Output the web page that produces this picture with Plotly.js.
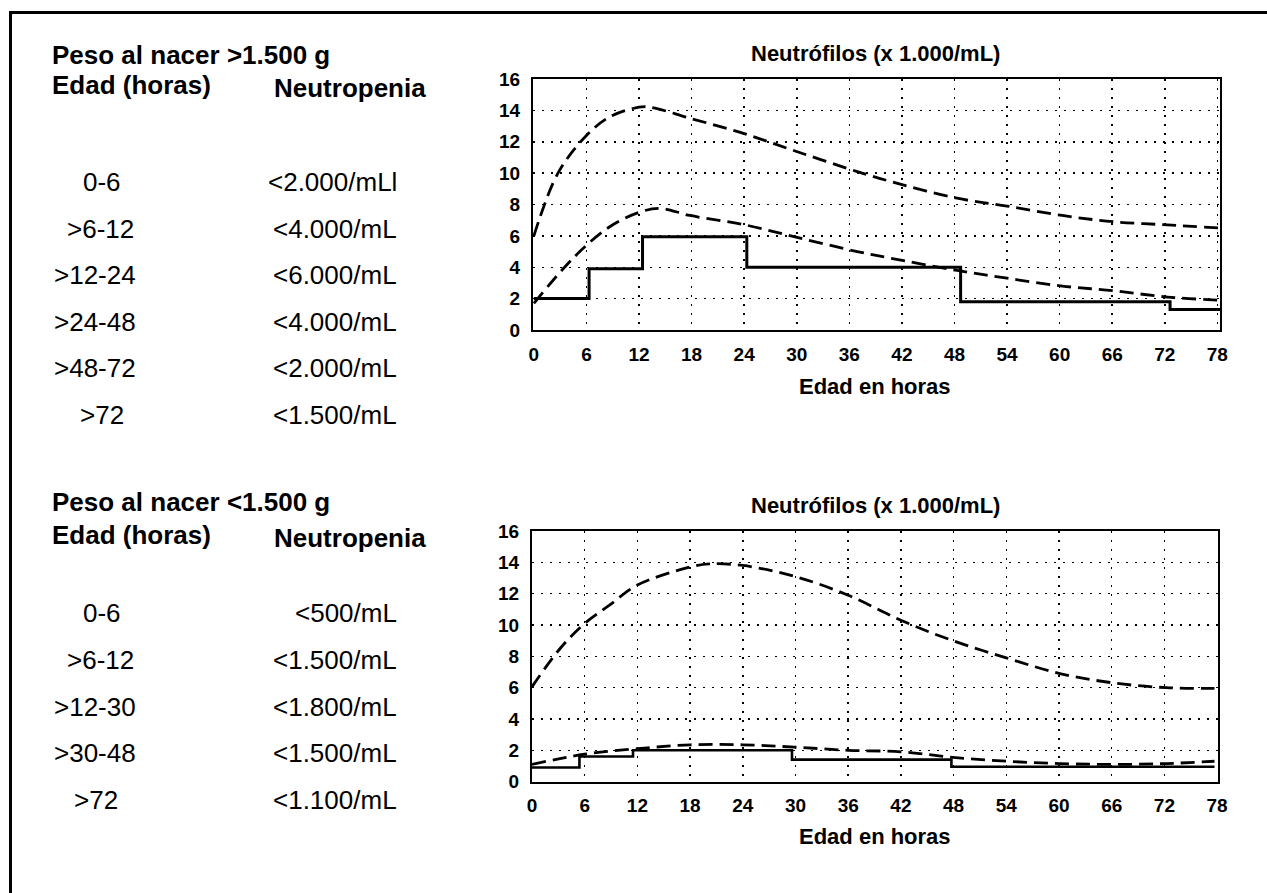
<!DOCTYPE html>
<html>
<head>
<meta charset="utf-8">
<script src="https://cdn.plot.ly/plotly-3.0.1.min.js"></script>
<style>
  html, body { margin: 0; padding: 0; background: #ffffff; }
  #chart { width: 1267px; height: 893px; }
</style>
</head>
<body>
<div id="chart"></div>
<script>
// ---------- Data: peso al nacer > 1.500 g ----------
const topUpperX = [0, 2.75, 6, 8.7, 12, 13.3, 17.8, 24.1, 30.4, 36.9, 40.5, 48.3, 54, 60.3, 66.2, 72.3, 78.3];
const topUpperY = [6.0, 10.0, 12.4, 13.6, 14.2, 14.2, 13.5, 12.5, 11.3, 10.1, 9.5, 8.4, 7.9, 7.3, 6.9, 6.7, 6.5];
const topLowerX = [0, 3.5, 6, 8.7, 12, 14.4, 17.8, 24.1, 30.4, 36.9, 40.5, 48.3, 54, 60.3, 66.2, 72.3, 78.3];
const topLowerY = [1.7, 4.0, 5.4, 6.6, 7.5, 7.75, 7.3, 6.7, 5.85, 5.0, 4.6, 3.8, 3.3, 2.8, 2.5, 2.1, 1.9];
const topStepX = [0, 6.3, 12.4, 24.3, 48.7, 72.6, 78.3];
const topStepY = [2.0, 3.9, 5.95, 4.0, 1.8, 1.3, 1.3];

// ---------- Data: peso al nacer < 1.500 g ----------
const botUpperX = [0, 3.2, 6, 8.9, 12, 18, 20.2, 24, 29.9, 36, 42, 47.9, 54, 60.1, 66.2, 72.2, 77.7];
const botUpperY = [6.05, 8.5, 10.1, 11.3, 12.55, 13.7, 13.9, 13.8, 13.1, 11.9, 10.3, 9.0, 7.9, 6.9, 6.3, 6.0, 5.95];
const botLowerX = [0, 6, 12, 18, 24, 29.9, 36, 42, 47.9, 54, 60.1, 66.2, 72.2, 77.7];
const botLowerY = [1.1, 1.75, 2.1, 2.35, 2.35, 2.2, 2.0, 1.9, 1.55, 1.3, 1.15, 1.1, 1.15, 1.3];
const botStepX = [0, 5.4, 11.5, 29.6, 47.75, 77.7];
const botStepY = [0.9, 1.6, 2.0, 1.4, 0.95, 0.95];

// ---------- Table texts ----------
const topHeading = "Peso al nacer >1.500 g";
const botHeading = "Peso al nacer <1.500 g";
const colAge = "Edad (horas)";
const colLimit = "Neutropenia";
const topAges = ["0-6", ">6-12", ">12-24", ">24-48", ">48-72", ">72"];
const topLimits = ["<2.000/mLl", "<4.000/mL", "<6.000/mL", "<4.000/mL", "<2.000/mL", "<1.500/mL"];
const botAges = ["0-6", ">6-12", ">12-30", ">30-48", ">72"];
const botLimits = ["<500/mL", "<1.500/mL", "<1.800/mL", "<1.500/mL", "<1.100/mL"];
const chartTitle = "Neutrófilos (x 1.000/mL)";
const xTitle = "Edad en horas";

// ---------- Layout helpers ----------
const W = 1267, H = 893;
const px = v => v / W;
const py = v => 1 - v / H;
const BOLD = "Liberation Sans, Arial, Helvetica, sans-serif";
const REG = "Liberation Sans, Arial, sans-serif";

const dashCurve = "14px,7px";
function curve(x, y, xa, ya) {
  return { x: x, y: y, xaxis: xa, yaxis: ya, mode: "lines", type: "scatter",
    line: { color: "#000", width: 2.8, dash: dashCurve, shape: "spline", smoothing: 1 },
    hoverinfo: "skip", showlegend: false };
}
function steps(x, y, xa, ya, w) {
  return { x: x, y: y, xaxis: xa, yaxis: ya, mode: "lines", type: "scatter",
    line: { color: "#000", width: w, shape: "hv" }, hoverinfo: "skip", showlegend: false };
}

const data = [
  curve(topUpperX, topUpperY, "x", "y"),
  curve(topLowerX, topLowerY, "x", "y"),
  steps(topStepX, topStepY, "x", "y", 3),
  curve(botUpperX, botUpperY, "x2", "y2"),
  curve(botLowerX, botLowerY, "x2", "y2"),
  steps(botStepX, botStepY, "x2", "y2", 2.6)
];

const tickFont = { family: BOLD, size: 19, color: "#000", weight: "bold" };
function xAxis(domain, range, anchor) {
  return { domain: domain, range: range, anchor: anchor, tickmode: "linear", tick0: 0, dtick: 6,
    showgrid: true, gridcolor: "#000", gridwidth: 1.5, griddash: "2px,7px",
    zeroline: false, showline: true, mirror: true, linecolor: "#000", linewidth: 2,
    ticks: "", ticklabelstandoff: 6, fixedrange: true, tickfont: tickFont };
}
function yAxis(domain, anchor) {
  return { domain: domain, range: [0, 16], anchor: anchor, tickmode: "linear", tick0: 0, dtick: 2,
    showgrid: true, gridcolor: "#000", gridwidth: 1.5, griddash: "2px,7px",
    zeroline: false, showline: true, mirror: true, linecolor: "#000", linewidth: 2,
    ticks: "", ticklabelstandoff: 7, fixedrange: true, tickfont: tickFont };
}

const annotations = [];
function addText(text, x, y, font, anchor) {
  annotations.push({ text: text, xref: "paper", yref: "paper", x: px(x), y: py(y),
    xanchor: anchor || "left", yanchor: "middle", showarrow: false, font: font });
}
const headFont = { family: BOLD, size: 26, color: "#000", weight: "bold" };
const rowFont = { family: REG, size: 26, color: "#000" };
const titleFont = { family: BOLD, size: 22, color: "#000", weight: "bold" };

// Top table
addText(topHeading, 50, 55, headFont);
addText(colAge, 50, 85, headFont);
addText(colLimit, 272, 88, headFont);
const topAgeLeft = [81, 65, 52, 52, 52, 78];
topAges.forEach((t, i) => addText(t, topAgeLeft[i], 182 + i * 46.6, rowFont));
topLimits.forEach((t, i) => addText(t, 399, 182 + i * 46.6, rowFont, "right"));

// Bottom table
addText(botHeading, 50, 502, headFont);
addText(colAge, 50, 535, headFont);
addText(colLimit, 272, 538, headFont);
const botAgeLeft = [81, 65, 52, 52, 72];
botAges.forEach((t, i) => addText(t, botAgeLeft[i], 613 + i * 46.75, rowFont));
botLimits.forEach((t, i) => addText(t, 399, 613 + i * 46.75, rowFont, "right"));

// Chart titles and axis titles
addText(chartTitle, 875, 54, titleFont, "center");
addText(xTitle, 875, 387, titleFont, "center");
addText(chartTitle, 875, 505, titleFont, "center");
addText(xTitle, 875, 836, titleFont, "center");

const layout = {
  width: W, height: H,
  margin: { l: 0, r: 0, t: 0, b: 0 },
  paper_bgcolor: "#fff", plot_bgcolor: "#fff",
  showlegend: false,
  xaxis: xAxis([px(533), px(1220)], [-0.1, 78.3], "y"),
  yaxis: yAxis([py(330), py(79)], "x"),
  xaxis2: xAxis([px(532), px(1218)], [0, 78.1], "y2"),
  yaxis2: yAxis([py(781.6), py(531)], "x2"),
  annotations: annotations,
  shapes: [
    { type: "line", xref: "paper", yref: "paper", x0: px(10.5), y0: 0, x1: px(10.5), y1: py(12.5),
      line: { color: "#000", width: 3 } },
    { type: "line", xref: "paper", yref: "paper", x0: px(9), y0: py(12.5), x1: 1, y1: py(12.5),
      line: { color: "#000", width: 3 } }
  ]
};

Plotly.newPlot("chart", data, layout, { displayModeBar: false, staticPlot: true });
</script>
</body>
</html>
